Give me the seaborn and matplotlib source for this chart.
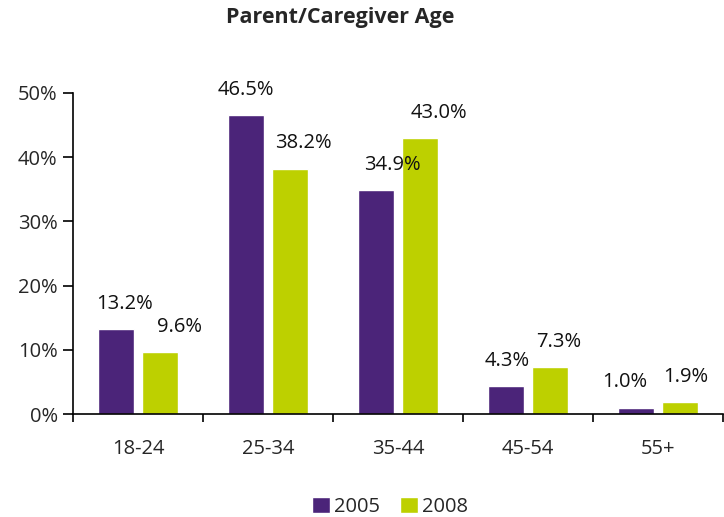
import pandas as pd
import matplotlib.pyplot as plt
import seaborn as sns
from matplotlib.ticker import FixedLocator

# Chart data
age_groups = ['18-24', '25-34', '35-44', '45-54', '55+']
pct_2005 = [13.2, 46.5, 34.9, 4.3, 1.0]
pct_2008 = [9.6, 38.2, 43.0, 7.3, 1.9]
years = ['2005', '2008']
colors = ['#4B2479', '#BDD000']

# horizontal nudge of the value labels (points), as placed in the original
label_shift = [[6, 0, 12, 1, -8], [14, 10, 14, 6, 4]]

df = pd.DataFrame({
    'age': age_groups * 2,
    'pct': pct_2005 + pct_2008,
    'year': [years[0]] * len(age_groups) + [years[1]] * len(age_groups),
})

sns.set_theme(style='white')
plt.rcParams['font.family'] = ['Open Sans', 'DejaVu Sans']

fig = plt.figure(figsize=(7.24, 5.17), dpi=100)
ax = fig.add_axes([0.1008, 0.1992, 0.8978, 0.621])

sns.barplot(data=df, x='age', y='pct', hue='year', palette=colors,
            width=0.677, gap=0.18, saturation=1, ax=ax)

# value labels above the bars
for cont, shifts in zip(ax.containers, label_shift):
    for bar, dx in zip(cont, shifts):
        h = bar.get_height()
        ax.annotate(f'{h:.1f}%', (bar.get_x() + bar.get_width() / 2, h),
                    xytext=(dx, 11), textcoords='offset points',
                    ha='center', va='bottom', fontsize=14.5, color='#111111')

ax.set_xlim(-0.5, len(age_groups) - 0.5)
ax.set_ylim(0, 50)
ax.set_yticks(range(0, 51, 10))
ax.set_yticklabels([f'{v}%' for v in range(0, 51, 10)], fontsize=14.5)
ax.set_xlabel('')
ax.set_ylabel('')

# category labels without marks, marks at group boundaries
ax.tick_params(axis='x', which='major', length=0, pad=18, labelsize=14.5)
ax.xaxis.set_minor_locator(FixedLocator([i - 0.5 for i in range(len(age_groups) + 1)]))
ax.tick_params(axis='x', which='minor', length=6, width=1.2, direction='out', color='black')
ax.tick_params(axis='y', length=7, width=1.2, direction='out', color='black', pad=4)
ax.xaxis.set_ticks_position('bottom')
ax.yaxis.set_ticks_position('left')

sns.despine(ax=ax)
for side in ['left', 'bottom']:
    ax.spines[side].set_color('black')
    ax.spines[side].set_linewidth(1.2)

handles, labels = ax.get_legend_handles_labels()
ax.get_legend().remove()
fig.legend(handles, labels, loc='lower center', bbox_to_anchor=(390 / 724, -0.035),
           ncol=2, frameon=False, fontsize=14.5, handlelength=0.9, handleheight=0.9,
           handletextpad=0.2, columnspacing=1.0)

fig.text(340 / 724, 1 - 18 / 517, 'Parent/Caregiver Age', ha='center', va='center',
         fontsize=15.5, fontweight='bold')

fig.savefig('out.png', dpi=100)
plt.close(fig)
